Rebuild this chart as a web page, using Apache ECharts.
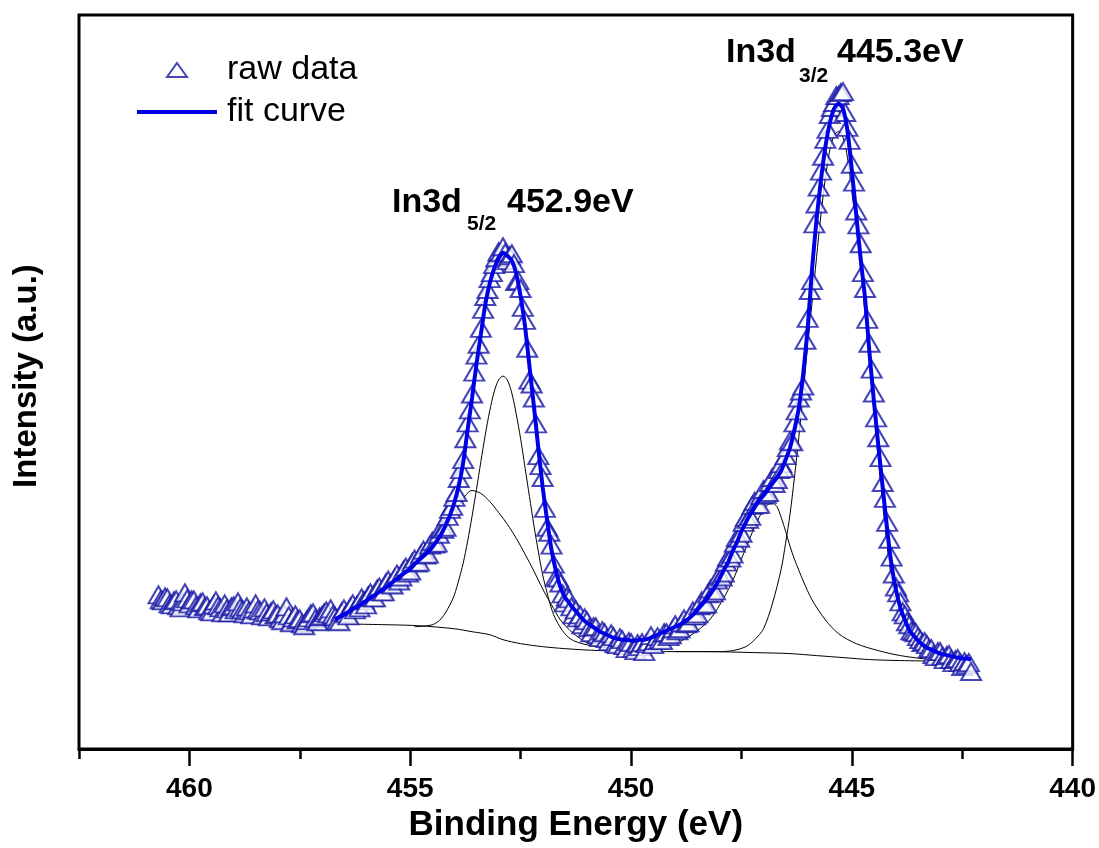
<!DOCTYPE html>
<html>
<head>
<meta charset="utf-8">
<title>In 3d XPS spectrum</title>
<script src="https://cdn.jsdelivr.net/npm/echarts@6/dist/echarts.min.js"></script>
<style>
  html, body { margin: 0; padding: 0; background: #fff; }
  #chart { width: 1099px; height: 848px; }
</style>
</head>
<body>
<div id="chart"></div>
<script>
// In 3d core-level spectrum: measured counts, envelope fit, Shirley background and four components.
const FONT = '"Liberation Sans", Arimo, Arial, sans-serif';
const NARROW = '"Liberation Sans Narrow", "Arial Narrow", "Liberation Sans", Arial, sans-serif';

// Measured spectrum on a 0.05 eV grid starting at 460.70 eV (intensity in a.u.)
const rawStart = 460.7;
const rawStep = 0.05;
const rawIntensity = [
  155,150,149,153,152,146,145,149,150,144,
  142,148,157,151,146,150,150,144,141,147,
  148,143,144,139,138,145,149,144,142,137,
  146,141,137,143,144,140,148,142,140,136,
  143,139,135,141,146,140,139,134,142,137,
  133,138,140,135,136,131,129,136,143,134,
  127,132,135,130,131,126,124,129,132,136,
  137,131,128,133,134,137,139,136,141,135,
  133,129,128,138,141,136,134,143,146,140,
  145,142,152,149,145,154,157,152,152,161,
  163,158,158,167,170,166,165,172,176,169,
  173,180,183,177,179,188,191,187,188,196,
  200,195,196,205,209,206,207,216,222,221,
  223,234,241,244,253,258,272,281,291,312,
  328,341,357,379,396,407,423,442,455,462,
  473,479,487,494,500,499,505,499,491,496,
  498,488,470,471,463,444,431,403,371,367,
  353,327,295,285,273,242,223,218,205,186,
  173,172,167,156,147,153,151,143,135,140,
  132,135,125,132,129,122,117,123,123,115,
  112,119,117,111,108,116,113,106,105,112,
  110,104,101,108,107,101,99,106,103,107,
  98,106,108,114,105,109,113,110,109,117,
  117,113,115,121,125,119,121,127,131,126,
  127,134,139,134,136,144,149,145,146,156,
  161,157,159,170,175,173,177,188,193,192,
  196,207,213,212,217,228,233,231,234,245,
  249,246,246,255,261,256,258,268,273,267,
  271,281,287,282,295,303,310,309,328,340,
  353,360,365,411,433,461,471,528,548,565,
  581,596,613,623,638,645,650,657,657,660,
  661,640,625,612,588,570,541,527,508,479,
  463,432,408,382,358,333,313,293,268,252,
  228,211,193,176,163,157,148,138,135,128,
  125,119,118,117,113,110,107,108,105,101,
  101,95,93,98,98,93,90,94,95,90,
  87,90,91,87,83,88,85,87,78
];

// Envelope of the fit on a 0.1 eV grid starting at 456.7 eV
const fitStart = 456.7;
const fitStep = 0.1;
const fitIntensity = [
  130,133,135,138,141,143,146,149,
  152,155,158,161,164,168,171,175,178,181,
  186,190,194,198,203,209,216,225,235,248,
  265,288,321,353,387,417,447,468,483,493,
  499,496,491,478,455,425,385,345,303,263,
  230,200,179,163,153,147,141,136,131,127,
  124,121,118,116,114,112,111,110,110,109,
  109,110,110,111,113,115,117,119,121,123,
  125,128,131,135,140,145,150,156,163,171,
  180,188,199,208,219,228,236,243,250,255,
  261,267,273,280,291,303,321,343,378,423,
  483,532,572,605,629,644,649,644,622,582,
  537,493,453,398,350,305,263,221,185,160,
  142,130,120,114,109,105,102,100,98,96,
  95,94,93,92,91,91,90
];

// Background and fitted components, [binding energy, intensity]
const background = [
  [456.7,126],[455.5,125],[454.8,124],[454.0,121],[453.6,118],[453.2,115],
  [452.9,110],[452.5,106],[452.0,103],[451.5,101],[450.7,99],[449.5,98],
  [448.3,98],[447.2,97],[446.4,96],[445.8,94],[445.2,92],[444.6,90],
  [443.9,89],[442.3,88]
];
const compBroadHigh = [
  [456.7,126],[456.3,133],[456.0,140],[455.5,154],[455.2,164],[454.9,178],
  [454.6,194],[454.3,213],[454.0,236],[453.8,252],[453.6,260],[453.4,257],
  [453.2,249],[453.0,238],[452.8,226],[452.6,212],[452.4,196],[452.2,179],
  [452.0,161],[451.8,145],[451.6,130],[451.3,116],[450.9,105],[450.3,100],
  [449.5,98]
];
const compMain52 = [
  [454.9,123],[454.5,125],[454.3,131],[454.1,145],[454.0,155],[453.9,170],
  [453.8,187],[453.7,209],[453.6,234],[453.5,261],[453.4,289],[453.3,316],
  [453.2,340],[453.1,359],[453.0,371],[452.9,375],[452.8,371],[452.7,358],
  [452.6,337],[452.5,312],[452.4,283],[452.3,254],[452.2,225],[452.1,199],
  [452.0,175],[451.9,157],[451.8,141],[451.7,130],[451.5,116],[451.3,109],
  [450.9,104],[449.9,100]
];
const compBroadLow = [
  [450.4,99],[449.4,102],[448.9,108],[448.5,119],[448.2,131],[447.9,152],
  [447.7,169],[447.5,191],[447.3,213],[447.1,233],[446.9,246],[446.8,247],
  [446.7,244],[446.6,233],[446.5,219],[446.4,204],[446.3,191],[446.1,169],
  [445.9,150],[445.6,130],[445.3,116],[444.9,106],[444.4,99],[443.9,94],
  [443.2,90],[442.3,88]
];
const compMain45 = [
  [449.0,98],[448.0,98],[447.7,99],[447.4,103],[447.2,110],[447.0,121],
  [446.8,146],[446.6,181],[446.5,207],[446.4,236],[446.3,273],[446.2,314],
  [446.1,358],[446.0,406],[445.9,449],[445.8,494],[445.7,537],[445.6,574],
  [445.5,602],[445.4,617],[445.3,621],[445.2,615],[445.1,595],[445.0,560],
  [444.9,525],[444.8,483],[444.7,437],[444.6,388],[444.5,339],[444.4,291],
  [444.3,246],[444.2,204],[444.1,171],[444.0,144],[443.8,116],[443.6,106],
  [443.3,98],[442.9,93],[442.3,89]
];

// Axis ticks
const majorTicks = [440, 445, 450, 455, 460];
const minorTicks = [442.5, 447.5, 452.5, 457.5, 462.5];

function onGrid(start, step, values) {
  return values.map((v, i) => [Number((start - i * step).toFixed(2)), v]);
}

const chart = echarts.init(document.getElementById('chart'), null, { renderer: 'canvas' });

const componentLine = (data) => ({
  type: 'line',
  data: data,
  symbol: 'none',
  smooth: 0.3,
  silent: true,
  z: 1,
  lineStyle: { color: '#000', width: 1 }
});

const label = (x, y, text, size) => ({
  type: 'text',
  style: { x: x, y: y, text: text, font: 'bold ' + size + 'px ' + FONT, fill: '#000', verticalAlign: 'middle' }
});

const option = {
  animation: false,
  backgroundColor: '#fff',
  textStyle: { fontFamily: FONT },
  grid: {
    left: 79, right: 26, top: 15, bottom: 95,
    show: true, borderColor: '#000', borderWidth: 3, backgroundColor: 'transparent'
  },
  xAxis: [
    {
      type: 'value', inverse: true, min: 440, max: 462.5, interval: 5,
      position: 'bottom',
      name: 'Binding Energy (eV)', nameLocation: 'middle', nameGap: 55,
      nameTextStyle: { fontFamily: FONT, fontSize: 35, fontWeight: 'bold', color: '#000' },
      axisLine: { show: true, lineStyle: { color: '#000', width: 3 } },
      axisTick: { show: true, customValues: majorTicks, length: 17, lineStyle: { color: '#000', width: 2.5 } },
      axisLabel: { show: true, customValues: majorTicks, margin: 26, fontFamily: NARROW, fontSize: 28, fontWeight: 'bold', color: '#000' },
      splitLine: { show: false }
    },
    {
      type: 'value', inverse: true, min: 440, max: 462.5,
      position: 'bottom',
      axisLine: { show: false },
      axisTick: { show: true, customValues: minorTicks, length: 10, lineStyle: { color: '#000', width: 2.5 } },
      axisLabel: { show: false },
      splitLine: { show: false }
    }
  ],
  yAxis: {
    type: 'value', min: 0, max: 738,
    name: 'Intensity (a.u.)', nameLocation: 'middle', nameGap: 36,
    nameTextStyle: { fontFamily: FONT, fontSize: 33, fontWeight: 'bold', color: '#000', padding: [0, 0, 0, 12] },
    axisLine: { show: false }, axisTick: { show: false },
    axisLabel: { show: false }, splitLine: { show: false }
  },
  legend: {
    orient: 'vertical', left: 137, top: 53, padding: 0,
    itemWidth: 80, itemHeight: 14, itemGap: 8,
    textStyle: { fontFamily: FONT, fontSize: 34, lineHeight: 34, color: '#000', padding: [0, 0, 0, 5] },
    data: [
      { name: 'raw data', icon: 'path://M10,0L20,14L0,14Z' },
      { name: 'fit curve', icon: 'path://M0,0L80,0L80,4L0,4Z' }
    ]
  },
  series: [
    componentLine(background),
    componentLine(compBroadHigh),
    componentLine(compMain52),
    componentLine(compBroadLow),
    componentLine(compMain45),
    {
      type: 'scatter', name: 'raw data',
      data: onGrid(rawStart, rawStep, rawIntensity),
      symbol: 'triangle', symbolSize: [20, 17],
      itemStyle: { color: '#fff', borderColor: '#1616a6', borderWidth: 2 },
      z: 2
    },
    {
      type: 'line', name: 'fit curve',
      data: onGrid(fitStart, fitStep, fitIntensity),
      symbol: 'none', smooth: 0.2,
      lineStyle: { color: '#0000e6', width: 4 },
      itemStyle: { color: '#0000e6' },
      z: 3
    }
  ],
  graphic: [
    label(392, 203, 'In3d', 34),
    label(467, 224, '5/2', 21),
    label(507, 203, '452.9eV', 34),
    label(726, 53, 'In3d', 34),
    label(799, 76, '3/2', 21),
    label(837, 53, '445.3eV', 34)
  ]
};

chart.setOption(option);
</script>
</body>
</html>
